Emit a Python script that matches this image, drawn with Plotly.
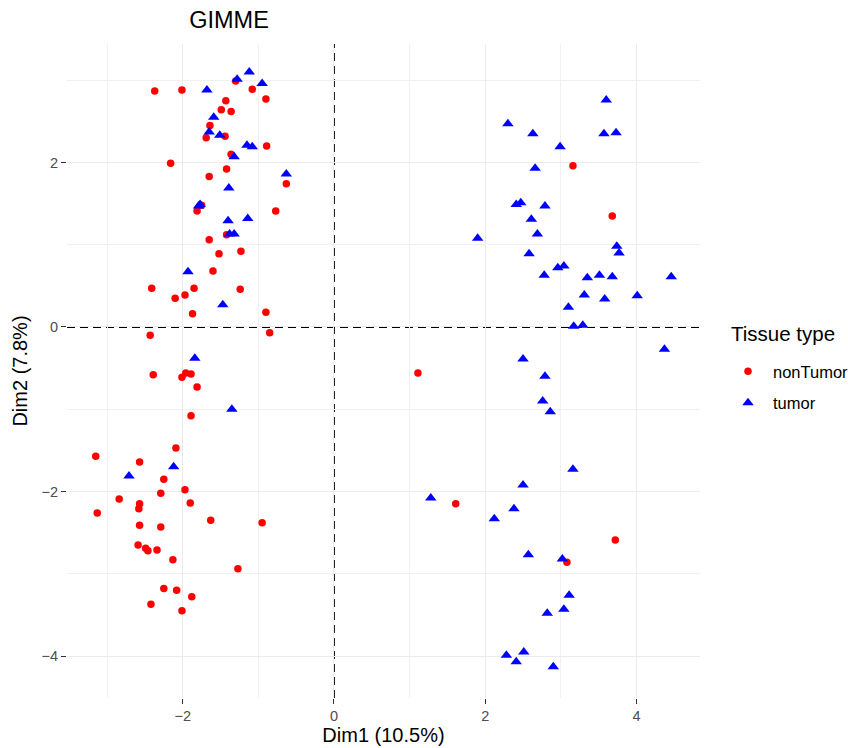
import plotly.graph_objects as go

# nonTumor (red circles)
nontumor_x = [-2.37, -2.01, -1.30, -1.08, -0.90, -1.43, -1.49, -1.36, -1.64, -1.69,
              -1.44, -0.89, -1.36, -2.16, -1.42, -1.65, -0.63, -1.75, -1.81, -0.77,
              -1.42, -1.65, -1.23, -1.52, -1.60, -2.41, -1.85, -1.24, -2.10, -1.97,
              -1.87, -0.90, -2.43, -0.85, -2.39, -2.01, -1.96, -1.89, -1.81, -1.89,
              -2.09, -3.15, -2.57, -2.25, -2.29, -1.97, -2.84, -2.57, -2.58, -1.90,
              -3.13, -1.63, -0.95, -2.57, -2.29, -2.59, -2.49, -2.46, -2.34, -2.13,
              -1.27, -2.25, -2.08, -1.88, -2.42, -2.01,
              3.16, 3.68, 1.11, 1.61, 3.72, 3.08]
nontumor_y = [2.87, 2.88, 2.99, 2.89, 2.77, 2.75, 2.64, 2.62, 2.45, 2.30,
              2.32, 2.20, 2.10, 1.99, 1.92, 1.83, 1.74, 1.48, 1.41, 1.41,
              1.12, 1.06, 0.92, 0.89, 0.68, 0.47, 0.47, 0.46, 0.35, 0.39,
              0.16, 0.18, -0.10, -0.07, -0.58, -0.61, -0.56, -0.57, -0.73, -1.08,
              -1.47, -1.57, -1.64, -1.85, -2.02, -1.98, -2.09, -2.15, -2.21, -2.14,
              -2.26, -2.35, -2.38, -2.41, -2.43, -2.65, -2.69, -2.72, -2.71, -2.83,
              -2.94, -3.18, -3.20, -3.28, -3.37, -3.45,
              1.96, 1.35, -0.56, -2.15, -2.59, -2.86]

# tumor (blue triangles)
tumor_x = [-1.12, -1.28, -0.95, -1.68, -1.59, -1.65, -1.51, -1.15, -1.08, -1.32,
           -0.63, -1.39, -1.79, -1.77, -1.40, -1.14, -1.38, -1.32, -1.93, -1.47,
           -1.84, -1.35, -2.12, -2.71,
           3.60, 2.30, 2.63, 3.57, 3.73, 2.99, 2.66, 2.41, 2.47, 2.79,
           2.61, 2.69, 1.90, 3.74, 3.77, 2.58, 2.78, 2.96, 3.04, 3.35,
           3.51, 3.68, 4.46, 3.31, 3.58, 4.01, 3.10, 3.17, 3.29, 4.37,
           2.50, 2.79, 2.76, 2.86, 3.16, 2.50, 1.28, 2.38, 2.12, 2.57,
           3.02, 3.11, 2.82, 3.04, 2.28, 2.51, 2.41, 2.90]
tumor_y = [3.10, 3.01, 2.96, 2.88, 2.55, 2.37, 2.33, 2.21, 2.19, 2.07,
           1.86, 1.69, 1.47, 1.49, 1.29, 1.32, 1.13, 1.13, 0.67, 0.27,
           -0.38, -1.00, -1.70, -1.81,
           2.76, 2.47, 2.35, 2.35, 2.36, 2.19, 1.93, 1.49, 1.51, 1.47,
           1.31, 1.13, 1.08, 0.98, 0.90, 0.89, 0.63, 0.72, 0.74, 0.60,
           0.63, 0.61, 0.61, 0.39, 0.34, 0.38, 0.24, 0.01, 0.02, -0.27,
           -0.39, -0.60, -0.90, -1.03, -1.73, -1.92, -2.08, -2.21, -2.33, -2.77,
           -2.82, -3.26, -3.48, -3.43, -3.99, -3.95, -4.07, -4.13]

x_ticks = [-2, 0, 2, 4]
x_labels = ["\u22122", "0", "2", "4"]
y_ticks = [-4, -2, 0, 2]
y_labels = ["\u22124", "\u22122", "0", "2"]
minor_ticks = [-3, -1, 1, 3]

FONT = "Liberation Sans, Arial, Helvetica, sans-serif"

W, H = 848, 748

fig = go.Figure()
fig.add_trace(go.Scatter(x=nontumor_x, y=nontumor_y, mode="markers", name="nonTumor",
                         legendgroup="a",
                         marker=dict(symbol="circle", size=7.5, color="#FF0000",
                                     line=dict(width=0))))
fig.add_trace(go.Scatter(x=tumor_x, y=tumor_y, mode="markers", name="tumor",
                         legendgroup="b",
                         marker=dict(symbol="triangle-up", size=10, color="#0000FF",
                                     line=dict(width=0))))

fig.add_shape(type="line", xref="x", yref="paper", x0=0, x1=0, y0=0, y1=1,
              line=dict(color="black", width=1.8, dash="8px,5px"), layer="below")
fig.add_shape(type="line", xref="paper", yref="y", x0=0, x1=1, y0=0, y1=0,
              line=dict(color="black", width=1.8, dash="8px,5px"), layer="below")


def axis(rng, tv, tt, title, standoff):
    return dict(
        range=rng, tickvals=tv, ticktext=tt, automargin=False,
        showgrid=True, gridcolor="#EBEBEB", gridwidth=1.2,
        zeroline=False, showline=False,
        ticks="outside", ticklen=5, tickwidth=1.3, tickcolor="#333333",
        tickfont=dict(family=FONT, size=14.5, color="#4D4D4D"),
        minor=dict(showgrid=True, gridcolor="#F0F0F0", gridwidth=0.7,
                   tickvals=minor_ticks, ticks=""),
        title=dict(text=title, font=dict(family=FONT, size=20, color="black"),
                   standoff=standoff),
    )


fig.add_annotation(text="Tissue type", xref="paper", yref="paper",
                   x=(729 - 67) / 633, y=(698 - 333) / 654,
                   xanchor="left", yanchor="middle", showarrow=False,
                   font=dict(family=FONT, size=20.5, color="black"))

fig.update_layout(
    width=W, height=H,
    paper_bgcolor="white", plot_bgcolor="white",
    margin=dict(l=67, r=148, t=44, b=50, autoexpand=False),
    font=dict(family=FONT),
    title=dict(text="GIMME", x=229 / W, xanchor="center",
               y=1 - 20 / H, yanchor="middle",
               font=dict(family=FONT, size=23.5, color="black")),
    xaxis=axis([-3.53, 4.84], x_ticks, x_labels, "Dim1 (10.5%)", 3),
    yaxis=axis([-4.51, 3.44], y_ticks, y_labels, "Dim2 (7.8%)", 8),
    legend=dict(font=dict(family=FONT, size=16.5, color="black"),
                x=(723 - 67) / 633, xanchor="left", y=(698 - 354) / 654, yanchor="top",
                tracegroupgap=7, itemwidth=40,
                bgcolor="rgba(0,0,0,0)"),
)

fig.write_html("out.html",
               config={"displayModeBar": False},
               post_script="document.body.style.margin='0';"
                           "document.body.style.overflow='hidden';")
